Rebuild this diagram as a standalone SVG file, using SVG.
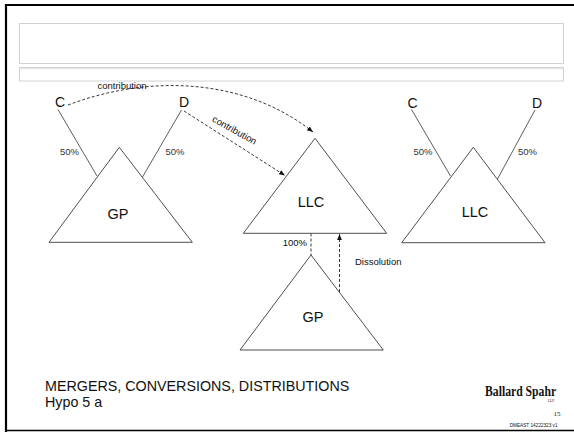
<svg xmlns="http://www.w3.org/2000/svg" width="574" height="432" viewBox="0 0 574 432">
<style>
text{font-family:"Liberation Sans",Arial,sans-serif;fill:#111}
.tri{fill:#fff;stroke:#222;stroke-width:0.8}
.own{stroke:#333;stroke-width:0.8;fill:none}
.lbl{font-size:14px;text-anchor:middle}
.pct{font-size:9.5px;text-anchor:middle;fill:#333}
.dash{stroke:#222;stroke-width:0.9;fill:none;stroke-dasharray:3 2}
.box{fill:none;stroke:#d2d2d2;stroke-width:1}
.serif{font-family:"Liberation Serif","Times New Roman",serif}
</style>
<defs>
<marker id="ah" viewBox="0 0 10 10" refX="10" refY="5" markerWidth="6" markerHeight="6" markerUnits="userSpaceOnUse" orient="auto">
<path d="M0,1 L10,5 L0,9 z" fill="#111"/>
</marker>
</defs>
<rect width="574" height="432" fill="#fff"/>
<g id="frame">
<path d="M6,432 V5 H574" fill="none" stroke="#000" stroke-width="2.2"/>
<path d="M6,430.5 H574" fill="none" stroke="#000" stroke-width="1.5"/>
<rect class="box" x="19.5" y="23.5" width="544" height="40"/>
<rect class="box" x="19.5" y="67.5" width="544" height="13.5"/>
<line x1="20" y1="68.6" x2="563" y2="68.6" stroke="#e8e8e8" stroke-width="1.4"/>
</g>
<g id="connectors">
<line class="own" x1="58" y1="109.5" x2="97" y2="176"/>
<line class="own" x1="181.5" y1="110" x2="142.5" y2="177"/>
<line class="own" x1="411.5" y1="109.5" x2="450.5" y2="176"/>
<line class="own" x1="535" y1="110" x2="497.5" y2="179"/>
<path class="dash" d="M68,105 C150,74 245,78 313,132" marker-end="url(#ah)"/>
<line class="dash" x1="184" y1="111" x2="285" y2="175.5" marker-end="url(#ah)"/>
<line class="dash" x1="311" y1="233.5" x2="311" y2="255" stroke-dasharray="2 2"/>
<line class="dash" x1="339.5" y1="292" x2="339.5" y2="234" marker-end="url(#ah)"/>
<text x="122" y="88.5" font-size="9.5" text-anchor="middle" fill="#333">contribution</text>
<text transform="translate(233,133) rotate(29)" font-size="9.5" text-anchor="middle" fill="#333">contribution</text>
<text class="pct" x="69.5" y="155">50%</text>
<text class="pct" x="175" y="155">50%</text>
<text class="pct" x="423" y="155">50%</text>
<text class="pct" x="527.5" y="155">50%</text>
<text x="307" y="245.5" font-size="9.5" text-anchor="end" fill="#333">100%</text>
<text x="355" y="265" font-size="9.5" fill="#333">Dissolution</text>
</g>
<g id="node-c1"><text class="lbl" x="60" y="107">C</text></g>
<g id="node-d1"><text class="lbl" x="184" y="107">D</text></g>
<g id="node-gp1">
<polygon class="tri" points="119.3,147.3 49,242.3 192.3,242.3"/>
<text x="118" y="218.5" font-size="14.5" text-anchor="middle">GP</text>
</g>
<g id="node-llc1">
<polygon class="tri" points="315,138.3 243.3,233.3 386.7,233.3"/>
<text x="311" y="207" font-size="14.5" text-anchor="middle">LLC</text>
</g>
<g id="node-gp2">
<polygon class="tri" points="311,255 240,350 383.3,350"/>
<text x="313" y="322" font-size="14.5" text-anchor="middle">GP</text>
</g>
<g id="node-c2"><text class="lbl" x="412.5" y="107.5">C</text></g>
<g id="node-d2"><text class="lbl" x="537" y="107.5">D</text></g>
<g id="node-llc2">
<polygon class="tri" points="473.3,147.3 401.7,242.7 545,242.7"/>
<text x="475" y="217" font-size="14.5" text-anchor="middle">LLC</text>
</g>
<g id="footer">
<text x="45" y="391" font-size="14.3">MERGERS, CONVERSIONS, DISTRIBUTIONS</text>
<text x="45" y="407" font-size="14.3">Hypo 5 a</text>
<text class="serif" transform="translate(485,396) scale(0.78,1)" font-size="15" font-weight="bold">Ballard Spahr</text>
<text class="serif" x="551" y="402" font-size="3.5" text-anchor="middle">LLP</text>
<text class="serif" x="557" y="416" font-size="7" text-anchor="middle">15</text>
<text x="557.5" y="426.5" font-size="4.7" text-anchor="end">DMEAST 14222323 v1</text>
</g>
</svg>
